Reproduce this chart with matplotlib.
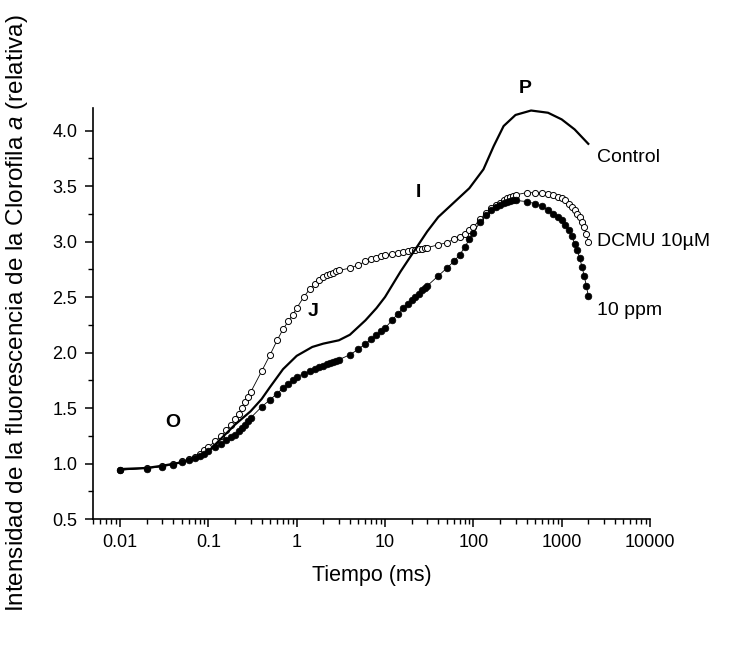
import numpy as np
import matplotlib
matplotlib.use("Agg")
import matplotlib.pyplot as plt
from matplotlib.ticker import FixedLocator, MultipleLocator, LogLocator, FuncFormatter, NullFormatter

plt.rcParams['font.family'] = ['Liberation Sans', 'DejaVu Sans']
plt.rcParams['mathtext.fontset'] = 'custom'
plt.rcParams['mathtext.it'] = 'Liberation Sans:italic'
plt.rcParams['mathtext.rm'] = 'Liberation Sans'

# tiempos de muestreo (ms), comunes a las dos series con marcadores
t = [0.01, 0.02, 0.03, 0.04, 0.05, 0.06, 0.07, 0.08, 0.09, 0.10,
     0.12, 0.14, 0.16, 0.18, 0.20, 0.22, 0.24, 0.26, 0.28, 0.30,
     0.4, 0.5, 0.6, 0.7, 0.8, 0.9, 1.0,
     1.2, 1.4, 1.6, 1.8, 2.0, 2.2, 2.4, 2.6, 2.8, 3.0,
     4, 5, 6, 7, 8, 9, 10,
     12, 14, 16, 18, 20, 22, 24, 26, 28, 30,
     40, 50, 60, 70, 80, 90, 100,
     120, 140, 160, 180, 200, 220, 240, 260, 280, 300,
     400, 500, 600, 700, 800, 900, 1000, 1100, 1200, 1300, 1400,
     1500, 1600, 1700, 1800, 1900, 2000]

ppm10 = [0.94, 0.955, 0.97, 0.99, 1.01, 1.03, 1.05, 1.07, 1.09, 1.11,
         1.15, 1.18, 1.21, 1.235, 1.26, 1.29, 1.32, 1.35, 1.38, 1.41,
         1.51, 1.575, 1.63, 1.68, 1.72, 1.75, 1.78,
         1.81, 1.83, 1.85, 1.87, 1.88, 1.895, 1.905, 1.915, 1.925, 1.935,
         1.98, 2.03, 2.08, 2.12, 2.16, 2.19, 2.22,
         2.29, 2.35, 2.40, 2.44, 2.47, 2.50, 2.53, 2.56, 2.58, 2.60,
         2.69, 2.76, 2.82, 2.88, 2.95, 3.02, 3.08,
         3.18, 3.24, 3.28, 3.31, 3.33, 3.345, 3.355, 3.365, 3.37, 3.37,
         3.36, 3.34, 3.32, 3.28, 3.25, 3.22, 3.19, 3.15, 3.10, 3.05, 2.98,
         2.92, 2.85, 2.77, 2.69, 2.60, 2.51]

dcmu = [0.94, 0.96, 0.98, 1.00, 1.02, 1.04, 1.06, 1.09, 1.12, 1.15,
        1.20, 1.25, 1.30, 1.35, 1.40, 1.45, 1.50, 1.55, 1.60, 1.64,
        1.83, 1.98, 2.11, 2.21, 2.28, 2.34, 2.40,
        2.50, 2.57, 2.62, 2.655, 2.68, 2.70, 2.71, 2.72, 2.73, 2.74,
        2.76, 2.79, 2.82, 2.84, 2.855, 2.865, 2.875,
        2.885, 2.895, 2.905, 2.915, 2.92, 2.925, 2.93, 2.935, 2.94, 2.945,
        2.97, 2.99, 3.02, 3.04, 3.07, 3.10, 3.13,
        3.20, 3.26, 3.30, 3.33, 3.35, 3.37, 3.39, 3.40, 3.41, 3.42,
        3.44, 3.44, 3.44, 3.43, 3.42, 3.40, 3.39, 3.37, 3.34, 3.31, 3.28,
        3.25, 3.22, 3.18, 3.13, 3.07, 3.00]

ctrl_t = [0.01, 0.02, 0.03, 0.05, 0.08, 0.1, 0.15, 0.2, 0.3, 0.4, 0.5, 0.7,
          1.0, 1.5, 2, 3, 4, 6, 8, 10, 15, 20, 30, 40, 60, 90, 130, 170,
          220, 300, 450, 700, 1000, 1400, 2000]
ctrl = [0.95, 0.96, 0.98, 1.01, 1.07, 1.11, 1.25, 1.35, 1.47, 1.58, 1.69, 1.85,
        1.97, 2.05, 2.08, 2.11, 2.16, 2.29, 2.40, 2.50, 2.73, 2.88, 3.09, 3.22,
        3.35, 3.48, 3.65, 3.86, 4.04, 4.14, 4.18, 4.16, 4.10, 4.01, 3.88]

fig = plt.figure(figsize=(7.38, 6.54), dpi=100)
ax = fig.add_axes([0.1256, 0.2064, 0.7552, 0.628])

ax.plot(ctrl_t, ctrl, color='black', lw=1.6, zorder=3)
ax.plot(t, dcmu, color='black', lw=0.6, marker='o', ms=4.4, mfc='white',
        mec='black', mew=0.7, zorder=2)
ax.plot(t, ppm10, color='black', lw=0.6, marker='o', ms=4.8, mfc='black',
        mec='black', mew=0.5, zorder=4)

ax.set_xscale('log')
ax.set_xlim(0.0049, 10000)
ax.set_ylim(0.5, 4.2)

ax.xaxis.set_major_locator(FixedLocator([0.01, 0.1, 1, 10, 100, 1000, 10000]))
ax.xaxis.set_major_formatter(FuncFormatter(lambda v, p: '%g' % v))
ax.xaxis.set_minor_locator(LogLocator(base=10, subs=np.arange(2, 10), numticks=20))
ax.xaxis.set_minor_formatter(NullFormatter())
ax.yaxis.set_major_locator(MultipleLocator(0.5))
ax.yaxis.set_minor_locator(MultipleLocator(0.25))
ax.yaxis.set_major_formatter(FuncFormatter(lambda v, p: '%.1f' % v))

for s in ['top', 'right']:
    ax.spines[s].set_visible(False)
for s in ['left', 'bottom']:
    ax.spines[s].set_linewidth(1.2)
ax.tick_params(which='major', direction='out', length=6, width=1.1, labelsize=13, pad=5)
ax.tick_params(which='minor', direction='out', length=3.5, width=1.0)

ax.set_xlabel('Tiempo (ms)', fontsize=15.5, labelpad=10)
ax.set_ylabel('Intensidad de la fluorescencia de la Clorofila $a$ (relativa)',
              fontsize=17.5, labelpad=16)

ax.text(2500, 3.76, 'Control', fontsize=14, va='center', ha='left', clip_on=False)
ax.text(2500, 3.0, 'DCMU 10\u00b5M', fontsize=14, va='center', ha='left', clip_on=False)
ax.text(2500, 2.38, '10 ppm', fontsize=14, va='center', ha='left', clip_on=False)

ax.text(0.04, 1.37, 'O', fontsize=14, fontweight='bold', ha='center', va='center')
ax.text(1.53, 2.37, 'J', fontsize=14, fontweight='bold', ha='center', va='center')
ax.text(23.6, 3.44, 'I', fontsize=14, fontweight='bold', ha='center', va='center')
ax.text(383, 4.38, 'P', fontsize=14, fontweight='bold', ha='center', va='center',
        clip_on=False)

fig.savefig('out.png', dpi=100)
